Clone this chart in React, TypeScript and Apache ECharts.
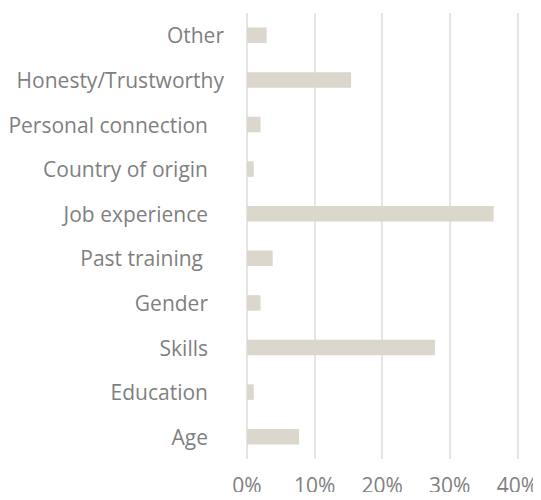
import React, { useEffect, useRef } from "react";
import * as echarts from "echarts";

const categories = [
  "Age",
  "Education",
  "Skills",
  "Gender",
  "Past training",
  "Job experience",
  "Country of origin",
  "Personal connection",
  "Honesty/Trustworthy",
  "Other",
];
const values = [7.7, 1.0, 27.8, 2.0, 3.8, 36.5, 1.0, 2.0, 15.4, 2.9];
const xTicks = [0, 10, 20, 30, 40];

// label right-padding style per category (mimics trailing spaces in source labels)
const labelStyleKey: Record<string, string> = {
  "Past training": "c",
  "Other": "a",
  "Honesty/Trustworthy": "a",
};

export default function App() {
  const ref = useRef<HTMLDivElement>(null);
  useEffect(() => {
    if (!ref.current) return;
    const chart = echarts.init(ref.current, undefined, { renderer: "svg" });
    const font = "'Open Sans', 'Noto Sans', sans-serif";
    const fs = 21;
    chart.setOption({
      animation: false,
      grid: { left: 247, right: 22, top: 13, bottom: 41, containLabel: false },
      xAxis: {
        type: "value",
        min: xTicks[0],
        max: xTicks[xTicks.length - 1],
        interval: 10,
        axisLine: { show: false },
        axisTick: { show: false },
        splitLine: { show: true, lineStyle: { color: "#dcdcdc", width: 1.5 } },
        axisLabel: {
          formatter: (v: number) => `${v}%`,
          color: "#7f7f7f",
          fontFamily: font,
          fontSize: fs,
          margin: 15,
        },
      },
      yAxis: {
        type: "category",
        data: categories,
        axisLine: { show: false },
        axisTick: { show: false },
        splitLine: { show: false },
        axisLabel: {
          margin: 23,
          color: "#7f7f7f",
          fontFamily: font,
          fontSize: fs,
          formatter: (v: string) => `{${labelStyleKey[v] || "b"}|${v}}`,
          rich: {
            a: { color: "#7f7f7f", fontFamily: font, fontSize: fs, padding: [0, 0, 0, 0] },
            b: { color: "#7f7f7f", fontFamily: font, fontSize: fs, padding: [0, 16, 0, 0] },
            c: { color: "#7f7f7f", fontFamily: font, fontSize: fs, padding: [0, 21, 0, 0] },
          },
        },
      },
      series: [
        {
          type: "bar",
          data: values,
          barWidth: 15.5,
          itemStyle: { color: "#dbd7cd" },
          silent: true,
        },
      ],
    });
    return () => chart.dispose();
  }, []);
  return <div ref={ref} style={{ width: 541, height: 500, margin: -8 }} />;
}
